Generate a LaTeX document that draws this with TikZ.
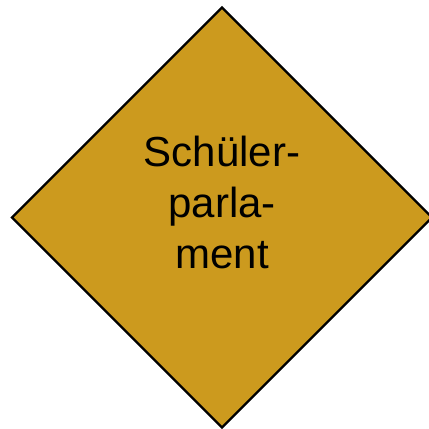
\documentclass[tikz,border=0pt]{standalone}
\usepackage{fontspec}
\setmainfont{Liberation Sans}
\usetikzlibrary{shapes.geometric}
\definecolor{gold}{RGB}{204,154,30}
\begin{document}
\begin{tikzpicture}[x=1pt, y=-1pt,
    raute/.style={draw, diamond, fill=gold, line width=2.2pt, aspect=1,
      inner sep=0pt, minimum width=421pt, minimum height=421pt},
    schrift/.style={align=center, font=\fontsize{42}{51}\selectfont}]
    \useasboundingbox (0,0) rectangle (429,429);
    \node[raute] (parl) at (222,217.5) {};
    \node[schrift] (txt) at (222,202) {Schüler-\\parla-\\ment};
\end{tikzpicture}
\end{document}
